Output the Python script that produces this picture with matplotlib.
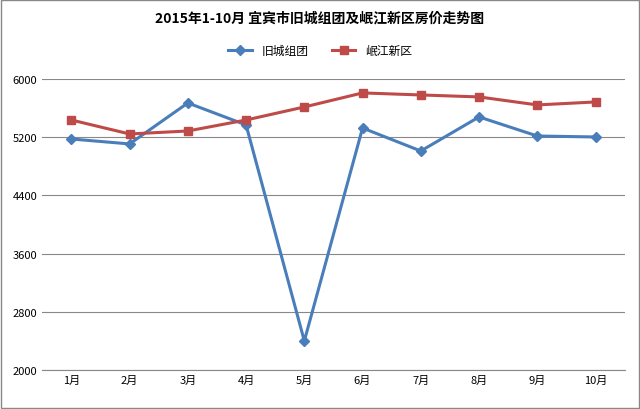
import matplotlib
matplotlib.use("Agg")
import matplotlib.pyplot as plt
from matplotlib import font_manager as fm

months = ["1月","2月","3月","4月","5月","6月","7月","8月","9月","10月"]
old_city = [5175, 5107, 5670, 5368, 2400, 5326, 5010, 5478, 5216, 5203]
minjiang = [5436, 5244, 5285, 5436, 5615, 5808, 5780, 5753, 5643, 5684]
yticks = [2000, 2800, 3600, 4400, 5200, 6000]

names = sorted({f.name for f in fm.fontManager.ttflist if "CJK" in f.name})
fam = [n for n in names if "SC" in n] or names
plt.rcParams["font.sans-serif"] = fam + ["DejaVu Sans"]
plt.rcParams["font.family"] = "sans-serif"

fig = plt.figure(figsize=(6.4, 4.1), dpi=100)
ax = fig.add_axes([0.066, 0.095, 0.91, 0.71])
x = range(len(months))
ax.plot(x, old_city, color="#4a7ebb", lw=2.2, marker="D", ms=5, label="旧城组团")
ax.plot(x, minjiang, color="#be4b48", lw=2.2, marker="s", ms=6, label="岷江新区")
ax.set_ylim(2000, 6000)
ax.set_yticks(yticks)
ax.set_xlim(-0.5, len(months) - 0.5)
ax.set_xticks(list(x))
ax.set_xticklabels(months)
ax.tick_params(labelsize=8, length=0)
ax.grid(axis="y", color="#888888", lw=0.8)
ax.set_axisbelow(True)
for s in ["top", "right", "left"]:
    ax.spines[s].set_visible(False)
ax.spines["bottom"].set_color("#888888")
fig.text(0.5, 0.955, "2015年1-10月 宜宾市旧城组团及岷江新区房价走势图", ha="center",
         va="center", fontsize=10, fontweight="bold")
fig.legend(loc="center", bbox_to_anchor=(0.5, 0.875), ncol=2, frameon=False, fontsize=8.5)
fig.patches.append(plt.Rectangle((0.002, 0.002), 0.996, 0.996, transform=fig.transFigure,
                                 fill=False, edgecolor="#888888", lw=1))
fig.savefig("out.png", dpi=100)
